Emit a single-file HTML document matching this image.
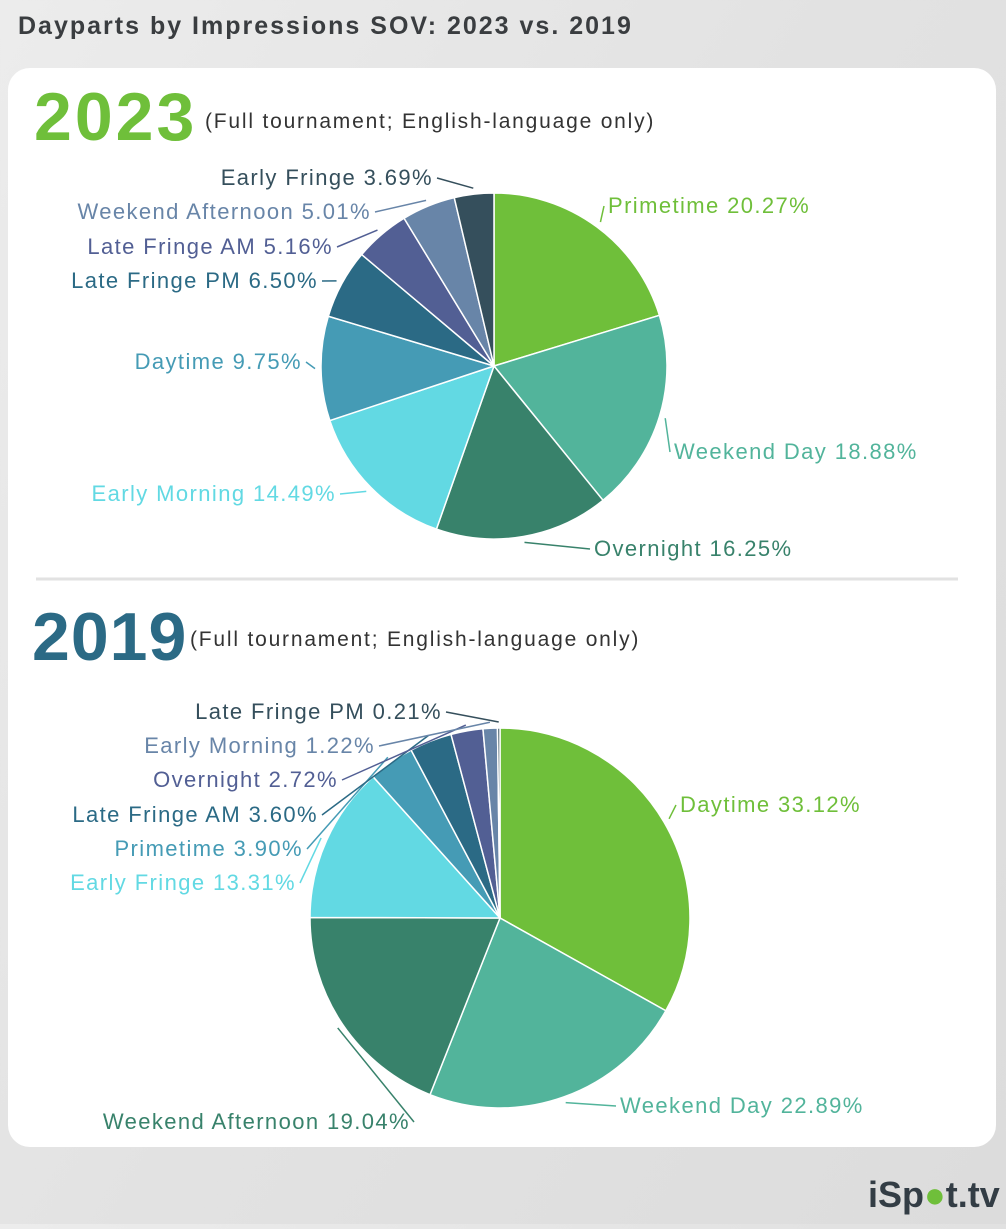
<!DOCTYPE html>
<html><head><meta charset="utf-8">
<style>
body{margin:0;width:1006px;height:1224px;overflow:hidden;background:linear-gradient(120deg,#ececec 0%,#e2e2e2 50%,#dcdcdc 100%);font-family:"Liberation Sans",sans-serif;}
svg text{font-family:"Liberation Sans",sans-serif;}
</style></head><body>
<svg width="1006" height="1224">
<text x="18" y="34" font-size="25" font-weight="bold" fill="#3a3d40" letter-spacing="2">Dayparts by Impressions SOV: 2023 vs. 2019</text>
<rect x="8" y="68" width="988" height="1079" rx="22" fill="#fff"/>
<text x="34" y="140" font-size="68" font-weight="bold" fill="#6fbf3a" letter-spacing="3">2023</text>
<text x="205" y="128" font-size="21" fill="#333" letter-spacing="1.8">(Full tournament; English-language only)</text>
<line x1="36" y1="579" x2="958" y2="579" stroke="#e2e2e2" stroke-width="3"/>
<text x="32" y="660" font-size="68" font-weight="bold" fill="#2b6a85" letter-spacing="1">2019</text>
<text x="190" y="646" font-size="21" fill="#333" letter-spacing="1.8">(Full tournament; English-language only)</text>
<g id="pie1"></g>
<g id="pie2"></g>
<text x="868" y="1207" font-size="36" font-weight="bold" fill="#333d45">iSp<tspan fill="#6fbf3a">●</tspan>t.tv</text>
</svg>
<script>
const cats2023=["Primetime","Weekend Day","Overnight","Early Morning","Daytime","Late Fringe PM","Late Fringe AM","Weekend Afternoon","Early Fringe"];
const vals2023=[20.27,18.88,16.25,14.49,9.75,6.50,5.16,5.01,3.69];
const cats2019=["Daytime","Weekend Day","Weekend Afternoon","Early Fringe","Primetime","Late Fringe AM","Overnight","Early Morning","Late Fringe PM"];
const vals2019=[33.12,22.89,19.04,13.31,3.90,3.60,2.72,1.22,0.21];
const colors=["#6fbf3a","#52b49b","#38826b","#62d9e3","#459bb5","#2b6a85","#525f94","#6885a8","#354f5c"];
const lab1=[[608,213,"start"],[674,459,"start"],[594,556,"start"],[336,501,"end"],[302,369,"end"],[318,288,"end"],[333,254,"end"],[371,219,"end"],[433,185,"end"]];
const lab2=[[680,812,"start"],[620,1113,"start"],[410,1129,"end"],[296,890,"end"],[303,856,"end"],[318,822,"end"],[338,787,"end"],[375,753,"end"],[442,719,"end"]];
const NS="http://www.w3.org/2000/svg";
function mk(t,a,p){const e=document.createElementNS(NS,t);for(const k in a)e.setAttribute(k,a[k]);p.appendChild(e);return e;}
function draw(g,cats,vals,cx,cy,r,labs){
  const tot=vals.reduce((a,b)=>a+b,0);let a0=-Math.PI/2;
  vals.forEach((v,i)=>{
    const a1=a0+v/tot*2*Math.PI;
    const x0=cx+r*Math.cos(a0),y0=cy+r*Math.sin(a0),x1=cx+r*Math.cos(a1),y1=cy+r*Math.sin(a1);
    const p=mk("path",{d:`M${cx},${cy}L${x0},${y0}A${r},${r} 0 ${a1-a0>Math.PI?1:0} 1 ${x1},${y1}Z`,fill:colors[i],stroke:"#fff","stroke-width":1.5},g);
    
    
    const am=(a0+a1)/2,mx=cx+(r+6)*Math.cos(am),my=cy+(r+6)*Math.sin(am);
    const L=labs[i];const lx=L[2]=="start"?L[0]-4:L[0]+4;
    const ln=mk("polyline",{points:`${mx},${my} ${lx},${L[1]-7}`,fill:"none",stroke:colors[i],"stroke-width":1.5},g);
    
    
    const t=mk("text",{x:L[0],y:L[1],"font-size":22,fill:colors[i],"text-anchor":L[2],"letter-spacing":1.4},g);
    t.textContent=cats[i]+" "+v.toFixed(2)+"%";
    
    
    a0=a1;
  });
}
draw(document.getElementById("pie1"),cats2023,vals2023,494,366,173,lab1);
draw(document.getElementById("pie2"),cats2019,vals2019,500,918,190,lab2);
</script>
</body></html>
